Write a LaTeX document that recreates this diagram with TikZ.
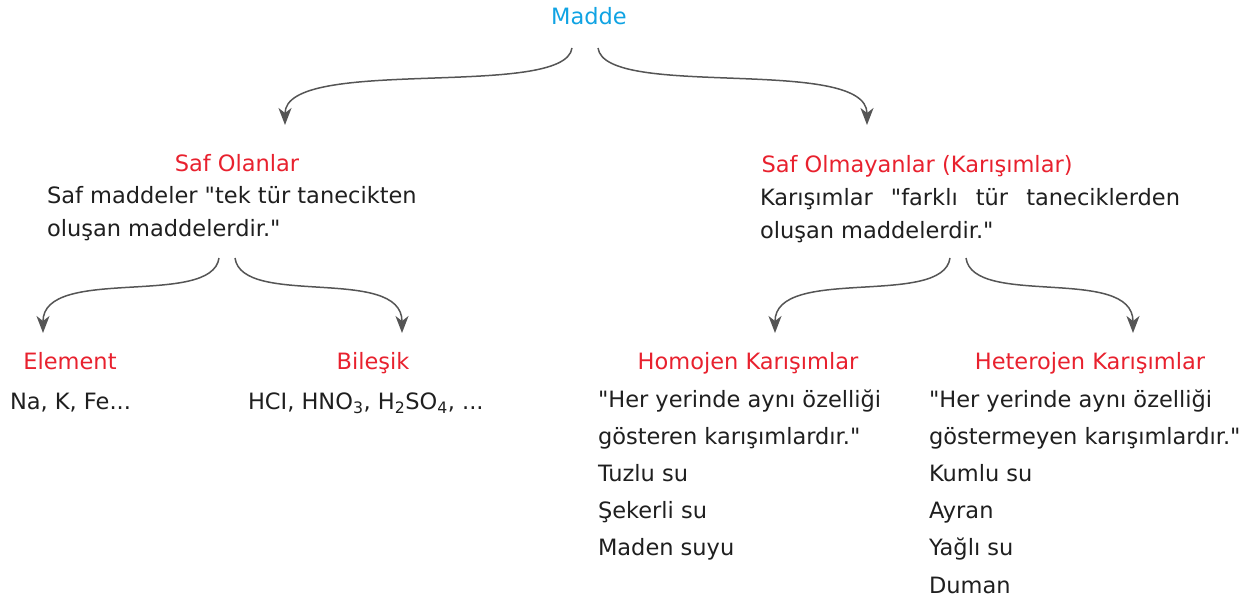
\documentclass[tikz,border=0pt]{standalone}
\usepackage{fontspec}
\setmainfont{DejaVu Sans}[Ligatures=TeXOff]
\usetikzlibrary{arrows.meta,calc}
\definecolor{titlered}{HTML}{E8212E}
\definecolor{maddecyan}{HTML}{10A3E3}
\definecolor{arrowgray}{HTML}{555555}
\begin{document}
\begin{tikzpicture}[x=1pt,y=-1pt,
  every node/.style={inner sep=0pt,outer sep=0pt,font=\fontsize{22.5}{33}\selectfont},
  ttl/.style={text=titlered,anchor=base},
  body/.style={anchor=base west,align=left,text=black!88},
  listbody/.style={body,font=\fontsize{22.5}{37.2}\selectfont},
  conn/.style={draw=arrowgray,line width=1.5pt,-{Stealth[length=17pt,width=13pt,inset=5pt]}}]
\useasboundingbox (0,0) rectangle (1251,602);
\node[anchor=base,text=maddecyan] (madde) at (589,25) {Madde};
\node[ttl] (safo) at (237,171) {Saf Olanlar};
\node[body] (safobody) at (47,236) {Saf maddeler "tek tür tanecikten\\oluşan maddelerdir."};
\node[ttl] (safm) at (917,172) {Saf Olmayanlar (Karışımlar)};
\node[body,text width=420pt,align=justify] (safmbody) at (760,205) {Karışımlar "farklı tür taneciklerden\linebreak oluşan maddelerdir."};
\node[ttl] (elem) at (70,369) {Element};
\node[body] (elembody) at (10,409) {Na, K, Fe...};
\node[ttl] (bil) at (373,369) {Bileşik};
\node[body] (bilbody) at (248,409) {HCI, HNO\textsubscript{3}, H\textsubscript{2}SO\textsubscript{4}, ...};
\node[ttl] (homo) at (748,369) {Homojen Karışımlar};
\node[listbody] (homobody) at (598,555.8) {"Her yerinde aynı özelliği\\gösteren karışımlardır."\\Tuzlu su\\Şekerli su\\Maden suyu};
\node[ttl] (hetero) at (1090,369) {Heterojen Karışımlar};
\node[listbody] (heterobody) at (929,593) {"Her yerinde aynı özelliği\\göstermeyen karışımlardır."\\Kumlu su\\Ayran\\Yağlı su\\Duman};
\draw[conn] ($(madde.base)+(-17,23)$) .. controls +(-7,52) and +(0,-70) .. ($(safo.base)+(48,-46)$);
\draw[conn] ($(madde.base)+(9,23)$) .. controls +(7,52) and +(0,-70) .. ($(safm.base)+(-50,-47)$);
\draw[conn] ($(safo.base)+(-18,87)$) .. controls +(-7,50) and +(0,-68) .. ($(elem.base)+(-27,-36)$);
\draw[conn] ($(safo.base)+(-2,87)$) .. controls +(7,50) and +(0,-68) .. ($(bil.base)+(29,-36)$);
\draw[conn] ($(safm.base)+(33,86)$) .. controls +(-7,50) and +(0,-68) .. ($(homo.base)+(27,-36)$);
\draw[conn] ($(safm.base)+(49,86)$) .. controls +(7,50) and +(0,-68) .. ($(hetero.base)+(43,-36)$);
\end{tikzpicture}
\end{document}
